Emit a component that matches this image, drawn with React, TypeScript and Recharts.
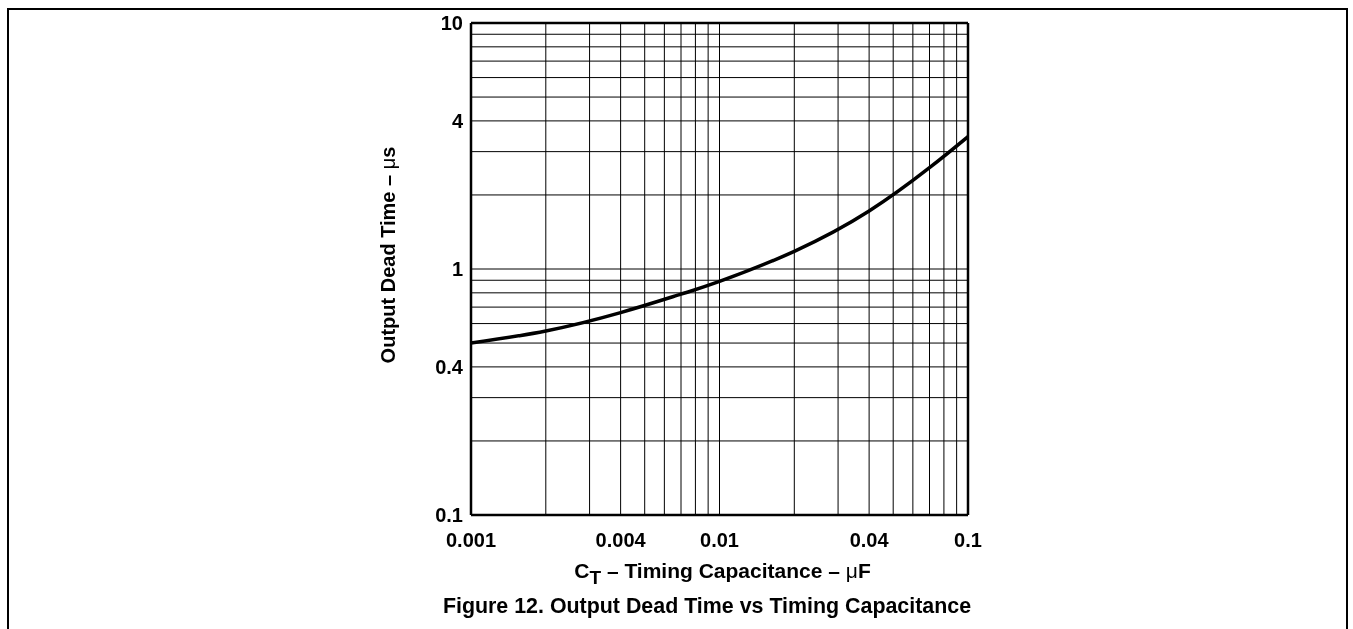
import React from 'react';
import { LineChart, Line, XAxis, YAxis, ReferenceLine } from 'recharts';

const capacitance = [0.001, 0.002, 0.004, 0.007, 0.01, 0.02, 0.04, 0.07, 0.1];
const deadTime = [0.5, 0.56, 0.665, 0.79, 0.89, 1.18, 1.72, 2.58, 3.45];

const xTicks = [0.001, 0.004, 0.01, 0.04, 0.1];
const yTicks = [0.1, 0.4, 1, 4, 10];
const xGrid = [0.002, 0.003, 0.004, 0.005, 0.006, 0.007, 0.008, 0.009, 0.01, 0.02, 0.03, 0.04, 0.05, 0.06, 0.07, 0.08, 0.09];
const yGrid = [0.2, 0.3, 0.4, 0.5, 0.6, 0.7, 0.8, 0.9, 1, 2, 3, 4, 5, 6, 7, 8, 9];

const data = capacitance.map((c, i) => ({ c, t: deadTime[i] }));

const FONT = '"Liberation Sans", Arial, Helvetica, sans-serif';

const fmt = (v: number) => String(v);

const XLabel = (props: any) => {
  const vb = props.viewBox || {};
  const cx = vb.x + vb.width / 2 + 3;
  const y = vb.y + 63;
  return (
    <text x={cx} y={y} textAnchor="middle" fontFamily={FONT} fontSize={21} fontWeight="bold" fill="#000">
      <tspan>C</tspan>
      <tspan fontSize={19} dy={6}>T</tspan>
      <tspan dy={-6}> – Timing Capacitance – </tspan>
      <tspan fontWeight="normal">μ</tspan>
      <tspan>F</tspan>
    </text>
  );
};

const YLabel = (props: any) => {
  const vb = props.viewBox || {};
  const x = vb.x + vb.width - 83;
  const y = vb.y + 232;
  return (
    <text
      x={x}
      y={y}
      transform={`rotate(-90, ${x}, ${y})`}
      textAnchor="middle"
      dominantBaseline="central"
      fontFamily={FONT}
      fontSize={20}
      fontWeight="bold"
      fill="#000"
    >
      <tspan>Output Dead Time – </tspan>
      <tspan fontWeight="normal">μ</tspan>
      <tspan>s</tspan>
    </text>
  );
};

export default function App() {
  return (
    <div style={{ position: 'relative', width: 1337, height: 613 }}>
      <div
        style={{
          position: 'fixed',
          left: 7,
          top: 8,
          right: 5,
          bottom: -20,
          borderTop: '2px solid #000',
          borderLeft: '2px solid #000',
          borderRight: '2px solid #000',
          boxSizing: 'border-box',
          pointerEvents: 'none',
        }}
      />
      <LineChart
        width={1337}
        height={613}
        data={data}
        margin={{ top: 15, right: 377, bottom: 76, left: 373 }}
      >
        <XAxis
          dataKey="c"
          type="number"
          scale="log"
          domain={[0.001, 0.1]}
          ticks={xTicks}
          tickFormatter={fmt}
          allowDataOverflow
          axisLine={false}
          tickLine={false}
          tickSize={6}
          tickMargin={12}
          height={30}
          interval={0}
          tick={{ fontFamily: FONT, fontSize: 20, fontWeight: 'bold', fill: '#000' }}
          label={<XLabel />}
        />
        <YAxis
          type="number"
          scale="log"
          domain={[0.1, 10]}
          ticks={yTicks}
          tickFormatter={fmt}
          allowDataOverflow
          axisLine={false}
          tickLine={false}
          tickSize={6}
          tickMargin={2}
          width={90}
          interval={0}
          tick={{ fontFamily: FONT, fontSize: 20, fontWeight: 'bold', fill: '#000' }}
          label={<YLabel />}
        />
        {xGrid.map((v) => (
          <ReferenceLine key={'x' + v} x={v} stroke="#000" strokeWidth={1} />
        ))}
        {yGrid.map((v) => (
          <ReferenceLine key={'y' + v} y={v} stroke="#000" strokeWidth={1} />
        ))}
        <ReferenceLine x={0.001} stroke="#000" strokeWidth={2.5} />
        <ReferenceLine x={0.1} stroke="#000" strokeWidth={2.5} />
        <ReferenceLine y={0.1} stroke="#000" strokeWidth={2.5} />
        <ReferenceLine y={10} stroke="#000" strokeWidth={2.5} />
        <Line
          dataKey="t"
          type="natural"
          stroke="#000"
          strokeWidth={3.5}
          dot={false}
          activeDot={false}
          isAnimationActive={false}
        />
      </LineChart>
      <div
        style={{
          position: 'absolute',
          left: 0,
          width: 1398,
          top: 586,
          textAlign: 'center',
          fontFamily: FONT,
          fontSize: 21.4,
          fontWeight: 'bold',
          lineHeight: '24px',
          color: '#000',
          whiteSpace: 'nowrap',
        }}
      >
        Figure 12. Output Dead Time vs Timing Capacitance
      </div>
    </div>
  );
}
